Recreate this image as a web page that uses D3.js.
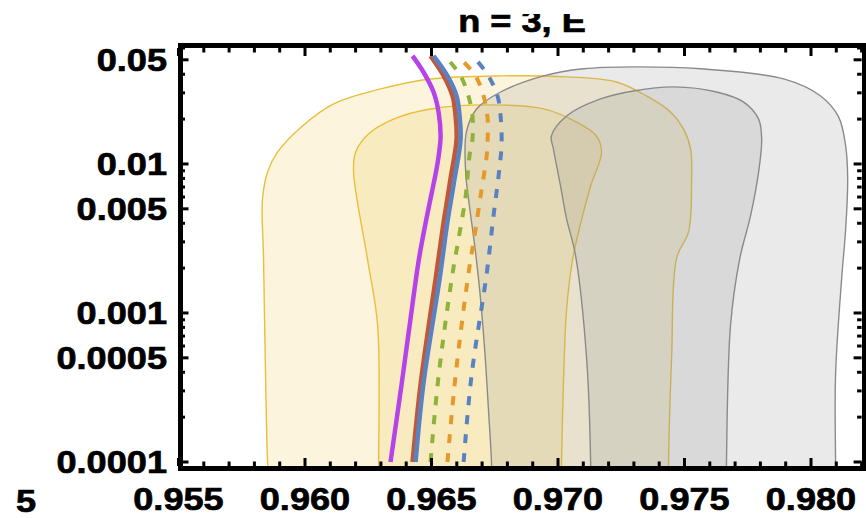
<!DOCTYPE html>
<html>
<head>
<meta charset="utf-8">
<script src="https://cdn.jsdelivr.net/npm/d3@7"></script>
<style>
  body { margin: 0; background: #fff; }
  svg { display: block; font-family: "Liberation Sans", Arial, sans-serif; font-weight: bold; }
</style>
</head>
<body>
<div id="chart"></div>
<script>
// axis ticks
const xTicks = [0.955, 0.960, 0.965, 0.970, 0.975, 0.980];
const xTickLabels = ["0.955", "0.960", "0.965", "0.970", "0.975", "0.980"];
const yTicks = [0.0001, 0.0005, 0.001, 0.005, 0.01, 0.05];
const yTickLabels = ["0.0001", "0.0005", "0.001", "0.005", "0.01", "0.05"];
const title = "n = 3, E";

// confidence contours [n_s, r], bottom-left going clockwise
const yellowOuter = [
  [0.95856, 0.00008], [0.95852, 0.0001], [0.95836, 0.00234], [0.95832, 0.00582],
  [0.95852, 0.00884], [0.95891, 0.0120], [0.95990, 0.0180], [0.96113, 0.0253],
  [0.96299, 0.0319], [0.96496, 0.0372], [0.96773, 0.0390], [0.97034, 0.0384],
  [0.97231, 0.0355], [0.97350, 0.0286], [0.97445, 0.0223], [0.97496, 0.0172],
  [0.97524, 0.0126], [0.97528, 0.00757], [0.97516, 0.00350], [0.97469, 0.00234],
  [0.97449, 0.000499], [0.97437, 0.0001], [0.97437, 0.00008]
];
const yellowInner = [
  [0.96291, 0.00008], [0.96291, 0.0001], [0.96287, 0.00083], [0.96247, 0.00230],
  [0.96192, 0.00884], [0.96200, 0.0120], [0.96251, 0.0159], [0.96350, 0.0200],
  [0.96496, 0.0234], [0.96733, 0.0249], [0.96943, 0.0234], [0.97073, 0.0191],
  [0.97152, 0.0154], [0.97172, 0.0120], [0.97129, 0.00712], [0.97089, 0.00396],
  [0.97058, 0.00230], [0.97034, 0.00106], [0.97022, 0.000361], [0.97014, 0.0001],
  [0.97014, 0.00008]
];
const grayOuter = [
  [0.96737, 0.00008], [0.96737, 0.0001], [0.96725, 0.000227], [0.96710, 0.000573],
  [0.96690, 0.00145], [0.96670, 0.00290], [0.96650, 0.00522], [0.96635, 0.00884],
  [0.96638, 0.0164], [0.96678, 0.0234], [0.96773, 0.0304], [0.96943, 0.0390],
  [0.97101, 0.0435], [0.97299, 0.0448], [0.97563, 0.0435], [0.97892, 0.0372],
  [0.98038, 0.0286], [0.98109, 0.0207], [0.98137, 0.0132], [0.98145, 0.00793],
  [0.98137, 0.00366], [0.98121, 0.00169], [0.98097, 0.000384], [0.98097, 0.0001],
  [0.98097, 0.00008]
];
const grayInner = [
  [0.97129, 0.00008], [0.97129, 0.0001], [0.97113, 0.000499], [0.97069, 0.00245],
  [0.97034, 0.00428], [0.97010, 0.00712], [0.96982, 0.0126], [0.96974, 0.0154],
  [0.97034, 0.0210], [0.97168, 0.0273], [0.97299, 0.0309], [0.97457, 0.0329],
  [0.97627, 0.0304], [0.97734, 0.0260], [0.97793, 0.0200], [0.97805, 0.0147],
  [0.97793, 0.00884], [0.97761, 0.00448], [0.97718, 0.00230], [0.97682, 0.00083],
  [0.97666, 0.0001], [0.97666, 0.00008]
];

// model predictions [n_s, r]
const purpleLine = [
  [0.96338, 0.0001], [0.96382, 0.000334], [0.96417, 0.000911], [0.96449, 0.00223],
  [0.96476, 0.00396], [0.96500, 0.00629], [0.96520, 0.00926], [0.96532, 0.0126],
  [0.96536, 0.0154], [0.96528, 0.0223], [0.96508, 0.0304], [0.96468, 0.0414],
  [0.96425, 0.0531]
];
const redLine = [
  [0.96425, 0.0001], [0.96457, 0.000334], [0.96516, 0.00169], [0.96548, 0.00408],
  [0.96575, 0.00793], [0.96599, 0.0147], [0.96595, 0.0210], [0.96583, 0.0286],
  [0.96548, 0.0390], [0.96496, 0.0531]
];
const blueLine = [
  [0.96437, 0.0001], [0.96468, 0.000334], [0.96532, 0.00169], [0.96563, 0.00408],
  [0.96591, 0.00793], [0.96615, 0.0147], [0.96611, 0.0210], [0.96599, 0.0286],
  [0.96563, 0.0390], [0.96508, 0.0531]
];
const greenDashed = [
  [0.96496, 0.0001], [0.96528, 0.000378], [0.96583, 0.00183], [0.96607, 0.00314],
  [0.96635, 0.00610], [0.96650, 0.0113], [0.96662, 0.0147], [0.96662, 0.0210],
  [0.96646, 0.0286], [0.96615, 0.0390], [0.96563, 0.0507]
];
const orangeDashed = [
  [0.96563, 0.0001], [0.96595, 0.000378], [0.96646, 0.00183], [0.96670, 0.00329],
  [0.96694, 0.00610], [0.96718, 0.0113], [0.96722, 0.0147], [0.96722, 0.0200],
  [0.96706, 0.0286], [0.96674, 0.0390], [0.96615, 0.0507]
];
const blueDashed = [
  [0.96627, 0.0001], [0.96658, 0.000378], [0.96718, 0.00183], [0.96745, 0.00448],
  [0.96765, 0.00831], [0.96777, 0.0136], [0.96773, 0.0210], [0.96761, 0.0286],
  [0.96725, 0.0390], [0.96674, 0.0507]
];

const W = 866, H = 518;
const pLeft = 178.5, pRight = 861.6, pTop = 48, pBottom = 466;
const stretch = 1.13;   // labels are a bit wider than plain Arial

const svg = d3.select("#chart").append("svg")
  .attr("width", W).attr("height", H);

const x = d3.scaleLinear().domain([0.955, 0.982]).range([pLeft, pRight]);
const y = d3.scaleLog().domain([0.000094, 0.060]).range([pBottom, pTop]);

svg.append("clipPath").attr("id", "plot")
  .append("rect").attr("x", pLeft).attr("y", pTop)
  .attr("width", pRight - pLeft).attr("height", pBottom - pTop);

const plot = svg.append("g").attr("clip-path", "url(#plot)");

const contour = d3.line().x(d => x(d[0])).y(d => y(d[1])).curve(d3.curveCatmullRom);

// regions: yellow first, grey on top, both see-through
[[yellowOuter, "#f0c850", "#e8bf3a"], [yellowInner, "#f0c850", "#e8bf3a"],
 [grayOuter, "#969696", "#8a8a8a"], [grayInner, "#969696", "#8a8a8a"]]
  .forEach(([pts, fill, stroke]) => {
    plot.append("path")
      .attr("d", contour(pts) + "Z")
      .attr("fill", fill).attr("fill-opacity", 0.2)
      .attr("stroke", stroke).attr("stroke-width", 1.4);
  });

const curves = [
  {pts: purpleLine, color: "#b543e8", dash: null},
  {pts: greenDashed, color: "#8db33a", dash: "9,10"},
  {pts: orangeDashed, color: "#e5992b", dash: "9,10"},
  {pts: blueDashed, color: "#5a82c2", dash: "9,10"},
  {pts: redLine, color: "#c1573a", dash: null},
  {pts: blueLine, color: "#5a82c2", dash: null}
];
curves.forEach(c => {
  plot.append("path")
    .attr("d", contour(c.pts))
    .attr("fill", "none")
    .attr("stroke", c.color)
    .attr("stroke-width", c.dash ? 4 : 4.5)
    .attr("stroke-dasharray", c.dash);
});

// ticks, pointing inward on all four sides
const xMinor = d3.range(0, 28).map(i => 0.955 + i * 0.001).filter(v => v <= 0.982);
const yMinor = [];
[1e-4, 1e-3, 1e-2].forEach(dec => d3.range(1, 10).forEach(k => {
  const v = k * dec;
  if (v >= 0.000094 && v <= 0.060) yMinor.push(v);
}));
const isMajorX = v => xTicks.some(t => Math.abs(t - v) < 1e-7);
const isMajorY = v => yTicks.some(t => Math.abs(t - v) / t < 1e-6);

const ticks = svg.append("g").attr("stroke", "#000").attr("stroke-width", 3);
xMinor.forEach(v => {
  const len = isMajorX(v) ? 8 : 4.5;
  ticks.append("line").attr("x1", x(v)).attr("x2", x(v)).attr("y1", pBottom).attr("y2", pBottom - len);
  ticks.append("line").attr("x1", x(v)).attr("x2", x(v)).attr("y1", pTop).attr("y2", pTop + len);
});
yMinor.forEach(v => {
  const len = isMajorY(v) ? 8 : 4.5;
  ticks.append("line").attr("x1", pLeft + 2).attr("x2", pLeft + 2 + len).attr("y1", y(v)).attr("y2", y(v));
  ticks.append("line").attr("x1", pRight).attr("x2", pRight - len).attr("y1", y(v)).attr("y2", y(v));
});

// frame
svg.append("rect")
  .attr("x", 180.5).attr("y", 45.5)
  .attr("width", 864.5 - 180.5).attr("height", 468.5 - 45.5)
  .attr("fill", "none").attr("stroke", "#000").attr("stroke-width", 5);

function label(g, px, py, text, anchor) {
  g.append("g")
    .attr("transform", `translate(${px},${py}) scale(${stretch},1)`)
    .append("text")
    .attr("text-anchor", anchor)
    .attr("font-size", 32)
    .attr("stroke", "#000")
    .attr("stroke-width", 0.7)
    .text(text);
}

const labels = svg.append("g").attr("fill", "#000");
xTicks.forEach((v, i) => label(labels, x(v), 510, xTickLabels[i], "middle"));
yTicks.forEach((v, i) => label(labels, 167, y(v) + 11.5, yTickLabels[i], "end"));
label(labels, 36, 512, "5", "end");

// title, with its top cut off like the source
svg.append("clipPath").attr("id", "titleclip")
  .append("rect").attr("x", 0).attr("y", 14).attr("width", W).attr("height", 30);
const t = svg.append("g").attr("clip-path", "url(#titleclip)");
label(t, 522, 32, title, "middle");
</script>
</body>
</html>
